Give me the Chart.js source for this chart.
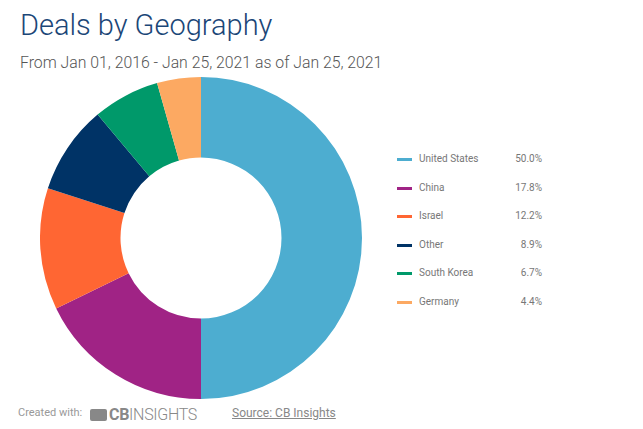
<!DOCTYPE html>
<html>
<head>
<meta charset="utf-8">
<script src="https://cdn.jsdelivr.net/npm/chart.js@4"></script>
<style>
    body {
        margin: 0;
        width: 643px;
        height: 429px;
        background: #fff;
        font-family: Roboto, "Noto Sans", sans-serif;
        position: relative;
        overflow: hidden;
    }
    .title {
        position: absolute;
        left: 20px;
        top: 8px;
        font-size: 29px;
        font-weight: 300;
        color: #1b4677;
        white-space: nowrap;
    }
    .subtitle {
        position: absolute;
        left: 20px;
        top: 53px;
        font-size: 15.8px;
        font-weight: 300;
        color: #555;
        white-space: nowrap;
    }
    .chart-box {
        position: absolute;
        left: 40px;
        top: 77px;
        width: 322px;
        height: 322px;
    }
    .legend {
        position: absolute;
        left: 397px;
        top: 146px;
        width: 145px;
    }
    .legend-row {
        position: relative;
        height: 28.6px;
        font-size: 10px;
        color: #777;
    }
    .legend-row .swatch {
        position: absolute;
        left: 0;
        top: 12px;
        width: 15px;
        height: 3px;
    }
    .legend-row .name {
        position: absolute;
        left: 22px;
        top: 7px;
    }
    .legend-row .pct {
        position: absolute;
        right: 0;
        top: 7px;
    }
    .footer {
        position: absolute;
        top: 406px;
        font-size: 11px;
        color: #999;
        white-space: nowrap;
    }
    .logo {
        position: absolute;
        left: 90px;
        top: 405px;
        color: #888;
        font-size: 16px;
        white-space: nowrap;
        letter-spacing: -0.3px;
    }
    .logo .icon {
        display: inline-block;
        width: 17px;
        height: 12px;
        background: #888;
        border-radius: 2px;
        margin-right: 2px;
        vertical-align: -1px;
    }
    .logo b { font-weight: 700; }
    .logo span.light { font-weight: 300; }
    .source {
        left: 232px;
        font-size: 12px;
        color: #888;
        text-decoration: underline;
        top: 406px;
    }
</style>
</head>
<body>
<div class="title">Deals by Geography</div>
<div class="subtitle">From Jan 01, 2016 - Jan 25, 2021 as of Jan 25, 2021</div>
<div class="chart-box"><canvas id="geoChart"></canvas></div>
<div class="legend" id="legend"></div>
<div class="footer" style="left:18px;">Created with:</div>
<div class="logo"><span class="icon"></span><b>CB</b><span class="light">INSIGHTS</span></div>
<div class="footer source">Source: CB Insights</div>

<script>
// Chart data
const countries = ['United States', 'China', 'Israel', 'Other', 'South Korea', 'Germany'];
const shares = [50.0, 17.8, 12.2, 8.9, 6.7, 4.4];
const sliceColors = ['#4dadd0', '#a02385', '#ff6633', '#003366', '#00996a', '#fca962'];

// Legend
const legendEl = document.getElementById('legend');
countries.forEach((name, i) => {
    const row = document.createElement('div');
    row.className = 'legend-row';
    row.innerHTML = `
        <span class="swatch" style="background:${sliceColors[i]}"></span>
        <span class="name">${name}</span>
        <span class="pct">${shares[i].toFixed(1)}%</span>
    `;
    legendEl.appendChild(row);
});

// Doughnut
const geoCtx = document.getElementById('geoChart');
new Chart(geoCtx, {
    type: 'doughnut',
    data: {
        labels: countries,
        datasets: [{
            data: shares,
            backgroundColor: sliceColors,
            borderWidth: 0
        }]
    },
    options: {
        responsive: true,
        maintainAspectRatio: false,
        animation: false,
        cutout: '50%',
        plugins: {
            legend: {
                display: false
            },
            tooltip: {
                enabled: false
            }
        }
    }
});
</script>
</body>
</html>
